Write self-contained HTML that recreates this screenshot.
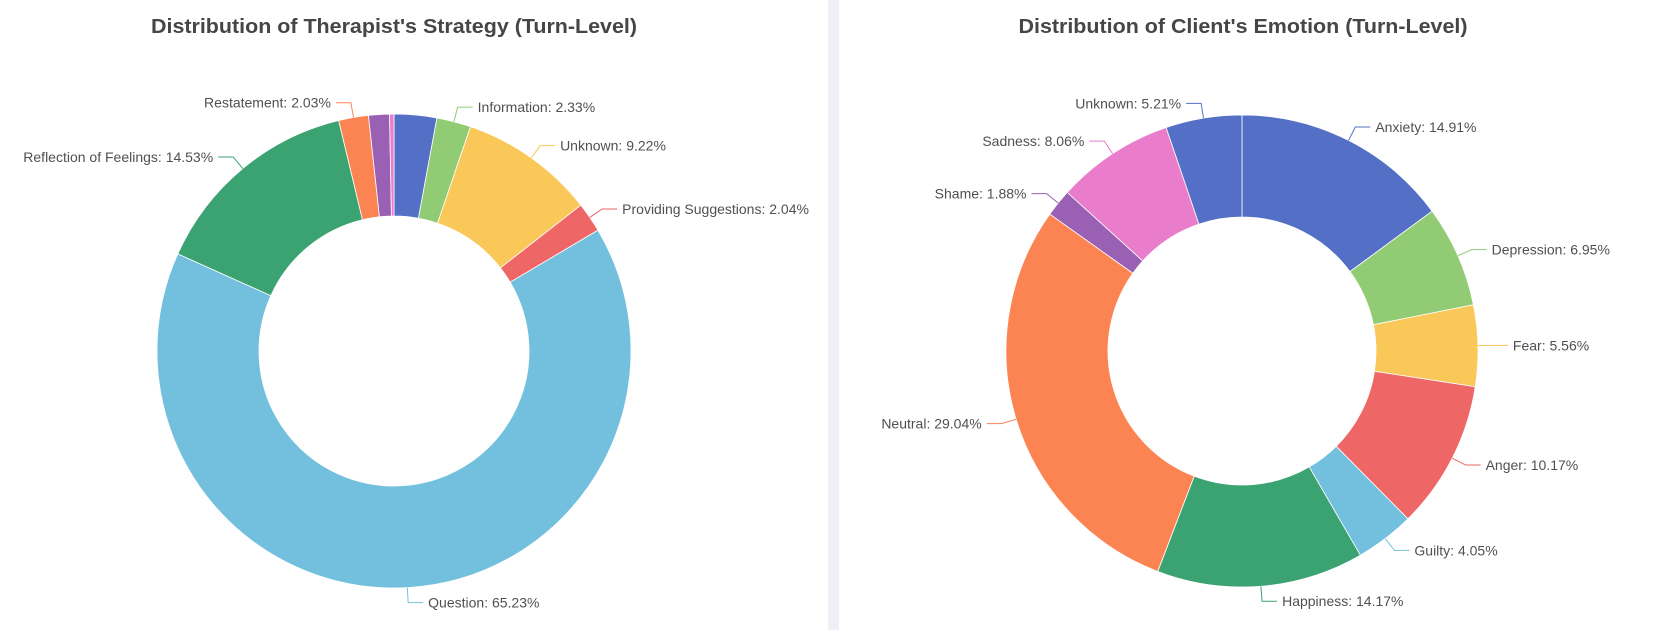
<!DOCTYPE html>
<html><head><meta charset="utf-8"><style>
html,body{margin:0;padding:0;background:#fff;}
svg{display:block;font-family:"Liberation Sans",sans-serif;}
</style></head><body>
<svg id="chart" width="1660" height="630" viewBox="0 0 1660 630">
<rect x="0" y="0" width="1660" height="630" fill="#ffffff"/>
<rect x="828" y="0" width="11" height="630" fill="#eef0f5"/>
<text x="394" y="33" text-anchor="middle" font-size="20" font-weight="bold" fill="#464646" textLength="486" lengthAdjust="spacingAndGlyphs">Distribution of Therapist's Strategy (Turn-Level)</text>
<text x="1243" y="33" text-anchor="middle" font-size="20" font-weight="bold" fill="#464646" textLength="449" lengthAdjust="spacingAndGlyphs">Distribution of Client's Emotion (Turn-Level)</text>
<g id="left"></g>
<g id="right"></g>
</svg>
<script>
const strategyNames = ["Affirmation","Information","Unknown","Providing Suggestions","Question","Reflection of Feelings","Restatement","Self-disclosure","Others"];
const strategyValues = [2.9,2.33,9.22,2.04,65.23,14.53,2.03,1.42,0.30];
const strategyShowLabel = [false,true,true,true,true,true,true,false,false];
const emotionNames = ["Anxiety","Depression","Fear","Anger","Guilty","Happiness","Neutral","Shame","Sadness","Unknown"];
const emotionValues = [14.91,6.95,5.56,10.17,4.05,14.17,29.04,1.88,8.06,5.21];
const emotionShowLabel = [true,true,true,true,true,true,true,true,true,true];
const palette = ["#5470c6","#91cc75","#fac858","#ee6666","#73c0de","#3ba272","#fc8452","#9a60b4","#ea7ccc"];
const NS = "http://www.w3.org/2000/svg";

function drawDonut(g, cx, cy, R, r, names, values, show, prefix){
  const total = values.reduce((a,b)=>a+b,0);
  const ang = v => v/total*2*Math.PI;
  const pt = (a,rad) => [cx+rad*Math.sin(a), cy-rad*Math.cos(a)];
  let start = 0;
  values.forEach((v,i)=>{
    const end = start + ang(v);
    const large = (end-start) > Math.PI ? 1 : 0;
    const [x1,y1]=pt(start,R),[x2,y2]=pt(end,R),[x3,y3]=pt(end,r),[x4,y4]=pt(start,r);
    const p = document.createElementNS(NS,"path");
    p.setAttribute("d",`M${x1},${y1} A${R},${R} 0 ${large} 1 ${x2},${y2} L${x3},${y3} A${r},${r} 0 ${large} 0 ${x4},${y4} Z`);
    p.setAttribute("fill",palette[i%palette.length]);
    p.setAttribute("stroke","#fff");
    p.setAttribute("stroke-width","0.8");
    
    
    g.appendChild(p);
    if(show[i]){
      const mid = (start+end)/2;
      const [ax,ay]=pt(mid,R),[bx,by]=pt(mid,R+15);
      const dir = Math.sin(mid) >= 0 ? 1 : -1;
      const cx2 = bx + dir*15;
      const l = document.createElementNS(NS,"polyline");
      l.setAttribute("points",`${ax},${ay} ${bx},${by} ${cx2},${by}`);
      l.setAttribute("fill","none");
      l.setAttribute("stroke",palette[i%palette.length]);
      l.setAttribute("stroke-width","1");
      
      
      g.appendChild(l);
      const t = document.createElementNS(NS,"text");
      t.setAttribute("x", cx2 + dir*5);
      t.setAttribute("y", by + 5);
      t.setAttribute("text-anchor", dir>0 ? "start" : "end");
      t.setAttribute("font-size","14");
      t.setAttribute("fill","#505050");
      t.textContent = names[i] + ": " + v.toFixed(2) + "%";
      
      
      g.appendChild(t);
    }
    start = end;
  });
}
drawDonut(document.getElementById("left"),394,351,237,135,strategyNames,strategyValues,strategyShowLabel,"strategy");
drawDonut(document.getElementById("right"),1242,351,236,134,emotionNames,emotionValues,emotionShowLabel,"emotion");
</script>
</body></html>
